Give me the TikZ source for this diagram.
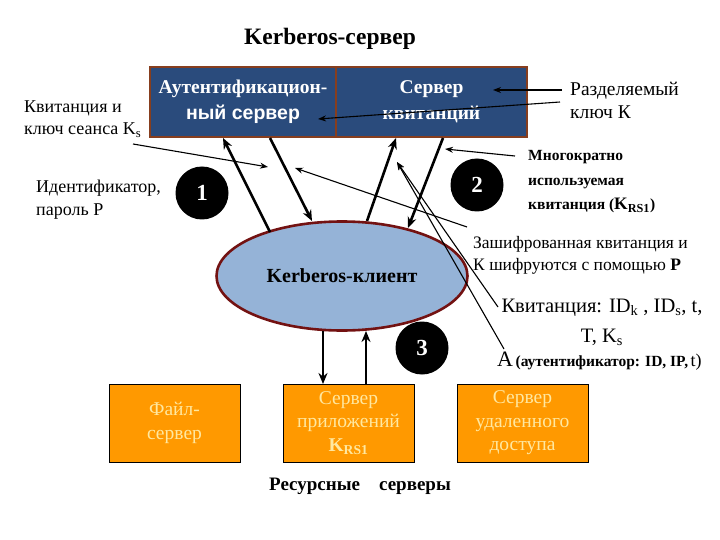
\documentclass[tikz,border=0pt]{standalone}
\usepackage{fontspec}
\setmainfont{Liberation Serif}
\setsansfont{Liberation Sans}
\usetikzlibrary{shapes.geometric,arrows.meta}

\definecolor{srvblue}{RGB}{42,75,124}
\definecolor{srvbrown}{RGB}{135,62,30}
\definecolor{cltblue}{RGB}{149,179,215}
\definecolor{cltred}{RGB}{115,18,18}
\definecolor{resorange}{RGB}{255,153,0}
\definecolor{restext}{RGB}{255,232,160}

\newcommand{\fsz}[2]{\fontsize{#1}{#2}\selectfont}

\begin{document}
\begin{tikzpicture}[x=1pt, y=-1pt, >={Stealth[length=11pt,width=9pt]},
  srv/.style={draw=srvbrown, line width=2.5pt, fill=srvblue, text=white,
    minimum height=70pt, inner sep=0pt, align=center, font=\fsz{19.5}{26}\bfseries},
  res/.style={draw=black, line width=0.6pt, fill=resorange, text=restext,
    minimum width=131pt, minimum height=78pt, inner sep=0pt, align=center,
    font=\fsz{19.5}{23.5}},
  num/.style={circle, fill=black, text=white, minimum size=53pt, inner sep=0pt,
    font=\fsz{23}{24}\bfseries},
  lbl/.style={anchor=west, align=left, inner sep=0pt},
  bigarrow/.style={->, line width=2.6pt},
  note/.style={-{Stealth[length=8pt,width=6pt]}, line width=1.1pt}]
  \useasboundingbox (0,0) rectangle (720,540);

  \node[font=\fsz{23.5}{26}\bfseries] (title) at (330,39) {Kerberos-сервер};

  % servers
  \node[srv, minimum width=186pt] (as) at (243,102)
    {Аутентификацион-\\{\sffamily ный сервер}};
  \node[srv, minimum width=191pt] (tgs) at (431.5,102) {Сервер\\квитанций};
  \node[ellipse, draw=cltred, line width=2.6pt, fill=cltblue, minimum width=251pt,
    minimum height=109pt, inner sep=0pt, font=\fsz{20}{22}\bfseries]
    (cl) at (342,276) {Kerberos-клиент};

  \node[res] (file) at (174.5,423) {Файл-\\сервер};
  \node[res] (app) at (348.5,423) {Сервер\\приложений\\\textbf{K\textsubscript{RS1}}};
  \node[res] (rem) at (522.5,423) {Сервер\\удаленного\\доступа};
  \node[font=\fsz{19}{22}\bfseries] (resrv) at (360,486) {Ресурсные\quad серверы};

  \node[num] (n1) at (202,193) {1};
  \node[num] (n2) at (477,185) {2};
  \node[num] (n3) at (422,348) {3};

  % labels
  \node[lbl, font=\fsz{18}{22}] (ks) at (24,119) {Квитанция и\\ключ сеанса K\textsubscript{s}};
  \node[lbl, font=\fsz{18}{23}] (id) at (36,200) {Идентификатор,\\пароль P};
  \node[lbl, font=\fsz{19.5}{23}] (key) at (570,100) {Разделяемый\\ключ К};
  \node[lbl, font=\fsz{15.5}{24.5}\bfseries] (reuse) at (528,182)
    {Многократно\\используемая\\квитанция ({\fsz{17.5}{20}K\textsubscript{RS1}})};
  \node[lbl, font=\fsz{17.5}{22}] (enc) at (473,255)
    {Зашифрованная квитанция и\\К шифруются с помощью \textbf{P}};
  \node[align=center, inner sep=0pt, font=\fsz{20.5}{30}] (tkt) at (602,322)
    {Квитанция: ID\textsubscript{k} , ID\textsubscript{s}, t,\\T, K\textsubscript{s}};
  \node[lbl] (auth) at (497,361)
    {{\fsz{22}{22}А} {\fsz{15.5}{16}\bfseries(аутентификатор: ID, IP,} {\fsz{18}{16}t)}};

  % points on the shapes
  \coordinate (asin) at (223,138);
  \coordinate (asout) at (270,138);
  \coordinate (tgsin) at (396,138);
  \coordinate (tgsout) at (443,138);
  \coordinate (cl1) at (270,232);
  \coordinate (cl2) at (312,221);
  \coordinate (cl3) at (367,221);
  \coordinate (cl4) at (408,228);
  \coordinate (cl5) at (323,331);
  \coordinate (cl6) at (366,331);
  \coordinate (app1) at (323,384);
  \coordinate (app2) at (366,384);

  \draw[bigarrow] (cl1) -- (asin);
  \draw[bigarrow] (asout) -- (cl2);
  \draw[bigarrow] (cl3) -- (tgsin);
  \draw[bigarrow] (tgsout) -- (cl4);
  \draw[bigarrow] (cl5) -- (app1);
  \draw[bigarrow] (app2) -- (cl6);

  % notes
  \coordinate (ksfrom) at (133,144);
  \coordinate (ksto) at (268,167);
  \coordinate (encfrom) at (467,227);
  \coordinate (encto) at (295,168);
  \coordinate (keyfrom) at (562,90);
  \coordinate (keyto) at (493,90);
  \coordinate (key2from) at (560,102);
  \coordinate (key2to) at (318,119);
  \coordinate (reufrom) at (515,156);
  \coordinate (reuto) at (445,149);
  \coordinate (tktfrom) at (498,307);
  \coordinate (authfrom) at (504,349);
  \coordinate (tktto) at (397,162);

  \draw[note] (ksfrom) -- (ksto);
  \draw[note] (encfrom) -- (encto);
  \draw[note] (keyfrom) -- (keyto);
  \draw[note] (key2from) -- (key2to);
  \draw[note] (reufrom) -- (reuto);
  \draw[note] (tktfrom) -- (tktto);
  \draw[note] (authfrom) -- (tktto);
\end{tikzpicture}
\end{document}
